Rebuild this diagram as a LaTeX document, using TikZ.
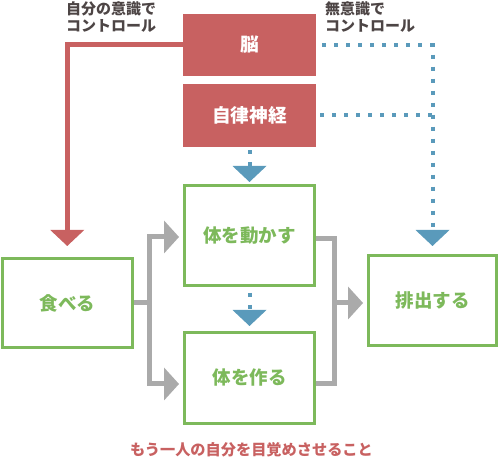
\documentclass[tikz,border=0pt]{standalone}
\usepackage{fontspec}
\newfontfamily\jp{Noto Sans CJK JP}
\usetikzlibrary{arrows.meta}
\definecolor{rd}{HTML}{C86161}
\definecolor{gr}{HTML}{7DB95B}
\definecolor{bl}{HTML}{5A9ABB}
\definecolor{gy}{HTML}{AAAAAA}
\definecolor{lb}{HTML}{4D4545}
\tikzset{
  bigtip/.tip={Triangle[width=34pt,length=16pt,line width=0pt]},
  gtip/.tip={Triangle[width=33pt,length=15pt,line width=0pt]},
  redbox/.style={fill=rd, text=white, minimum width=133pt, inner sep=0pt,
    font=\jp\bfseries\fontsize{18.7}{20}\selectfont},
  greenbox/.style={draw=gr, line width=3pt, fill=white, text=gr, inner sep=0pt,
    font=\jp\bfseries\fontsize{18.5}{20}\selectfont},
  lbl/.style={text=lb, inner sep=0pt, align=left,
    font=\jp\bfseries\fontsize{15}{17.5}\selectfont},
  redline/.style={draw=rd, line width=5pt, line join=miter, -bigtip, rd},
  bluedots/.style={draw=bl, line width=4pt, dash pattern=on 4pt off 8pt, -bigtip, bl},
  grayline/.style={draw=gy, line width=5pt, line join=miter, gy},
}
\begin{document}
\begin{tikzpicture}[x=1pt,y=-1pt]
\useasboundingbox (0,0) rectangle (499,457);
% nodes
\node[redbox, minimum height=62pt] (nou) at (249.5,45) {脳};
\node[redbox, minimum height=63pt] (jiritsu) at (249.5,115.5) {自律神経};
\node[greenbox, minimum width=130pt, minimum height=100pt] (ugokasu) at (249.5,235.5) {体を動かす};
\node[greenbox, minimum width=130pt, minimum height=91pt] (tsukuru) at (249.5,378) {体を作る};
\node[greenbox, minimum width=129.5pt, minimum height=89pt] (taberu) at (67.25,303) {食べる};
\node[greenbox, minimum width=128pt, minimum height=90pt] (haishutsu) at (432.5,300.5) {排出する};
% labels
\node[lbl, anchor=base west] (lab1) at (66,31.7) {自分の意識で\\コントロール};
\node[lbl, anchor=base west] (lab2) at (325,31.7) {無意識で\\コントロール};
\node[text=rd, inner sep=0pt, anchor=base, font=\jp\bfseries\fontsize{15.2}{17}\selectfont] (msg) at (251.5,455.5) {もう一人の自分を目覚めさせること};
% red connector
\draw[redline, shorten >=11pt] (nou.west) -| (taberu.north);
% blue dotted connectors
\draw[bluedots, dash phase=6pt, shorten >=8pt] (nou.east) -| (haishutsu.north);
\draw[bluedots, -, dash phase=8pt] (jiritsu.east) -- (jiritsu.east -| haishutsu.north);
\draw[bluedots, dash phase=9pt, shorten >=2pt] (jiritsu.south) -- (ugokasu.north);
\draw[bluedots, dash phase=6pt, shorten >=5pt] (ugokasu.south) -- (tsukuru.north);
% gray connectors
\coordinate (gL) at (149.5,303);
\coordinate (gT) at (149.5,237);
\coordinate (gB) at (149.5,384);
\coordinate (rT) at (334.5,238.5);
\coordinate (rB) at (334.5,384);
\coordinate (rM) at (334.5,303);
\draw[grayline] (taberu.east) -- (gL);
\draw[grayline, gtip-gtip, shorten <=4pt, shorten >=4pt] (ugokasu.west |- gT) -- (gT) -- (gB) -- (tsukuru.west |- gB);
\draw[grayline] (ugokasu.east |- rT) -- (rT) -- (rB) -- (tsukuru.east |- rB);
\draw[grayline, -gtip, shorten >=4pt] (rM) -- (haishutsu.west |- rM);
\end{tikzpicture}
\end{document}
